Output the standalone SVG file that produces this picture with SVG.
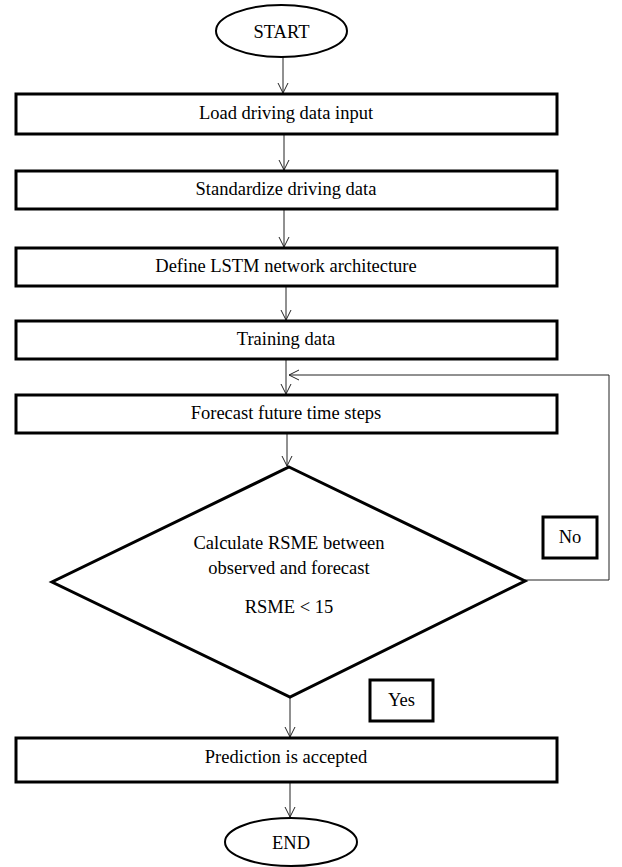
<svg xmlns="http://www.w3.org/2000/svg" width="622" height="867" viewBox="0 0 622 867">
<style>
.box{fill:#fff;stroke:#000;stroke-width:3}
.term{fill:#fff;stroke:#000;stroke-width:2}
.lbl{fill:#fff;stroke:#000;stroke-width:3}
.t{font-family:"Liberation Serif","Times New Roman",serif;font-size:18.5px;fill:#000;text-anchor:middle}
.c{fill:none;stroke:#222;stroke-width:1}
</style>
<defs>
<marker id="ah" viewBox="0 0 12 12" refX="11" refY="6" markerWidth="12" markerHeight="12" markerUnits="userSpaceOnUse" orient="auto">
<path d="M1,1 L11,6 L1,11" fill="none" stroke="#222" stroke-width="1"/>
</marker>
</defs>
<rect width="622" height="867" fill="#fff"/>
<g id="connectors">
<line class="c" x1="283" y1="57" x2="283" y2="93" marker-end="url(#ah)"/>
<line class="c" x1="284" y1="135" x2="284" y2="170" marker-end="url(#ah)"/>
<line class="c" x1="284" y1="210" x2="284" y2="247" marker-end="url(#ah)"/>
<line class="c" x1="286" y1="287" x2="286" y2="320" marker-end="url(#ah)"/>
<line class="c" x1="286" y1="360" x2="286" y2="394" marker-end="url(#ah)"/>
<line class="c" x1="287" y1="434" x2="287" y2="466" marker-end="url(#ah)"/>
<polyline class="c" points="525,580 609,580 609,375 289,375" marker-end="url(#ah)"/>
<line class="c" x1="290" y1="697" x2="290" y2="737" marker-end="url(#ah)"/>
<line class="c" x1="290" y1="783" x2="290" y2="817" marker-end="url(#ah)"/>
</g>
<g id="start">
<ellipse class="term" cx="281.5" cy="31" rx="65.5" ry="26"/>
<text class="t" x="281.5" y="38">START</text>
</g>
<g id="load">
<rect class="box" x="16" y="94" width="541" height="40"/>
<text class="t" x="286" y="119">Load driving data input</text>
</g>
<g id="standardize">
<rect class="box" x="16" y="171" width="541" height="38"/>
<text class="t" x="286" y="195">Standardize driving data</text>
</g>
<g id="define">
<rect class="box" x="16" y="248" width="541" height="38"/>
<text class="t" x="286" y="272">Define LSTM network architecture</text>
</g>
<g id="training">
<rect class="box" x="16" y="321" width="541" height="38"/>
<text class="t" x="286" y="345">Training data</text>
</g>
<g id="forecast">
<rect class="box" x="16" y="395" width="541" height="38"/>
<text class="t" x="286" y="419">Forecast future time steps</text>
</g>
<g id="decision">
<polygon class="box" points="289,467 525,581 290,697 52,582"/>
<text class="t" x="289" y="549">Calculate RSME between</text>
<text class="t" x="289" y="574">observed and forecast</text>
<text class="t" x="289" y="613">RSME &lt; 15</text>
</g>
<g id="no">
<rect class="lbl" x="543" y="517" width="54" height="41"/>
<text class="t" x="570" y="543">No</text>
</g>
<g id="yes">
<rect class="lbl" x="370" y="680" width="63" height="41"/>
<text class="t" x="401.5" y="706">Yes</text>
</g>
<g id="prediction">
<rect class="box" x="16" y="738" width="541" height="44"/>
<text class="t" x="286" y="763">Prediction is accepted</text>
</g>
<g id="end">
<ellipse class="term" cx="291" cy="842" rx="66" ry="24"/>
<text class="t" x="291" y="849">END</text>
</g>
</svg>
